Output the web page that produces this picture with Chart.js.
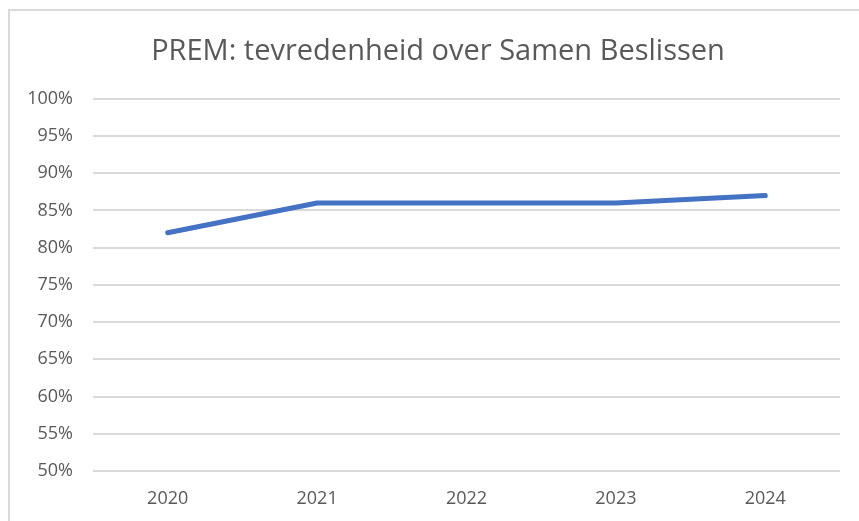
<!DOCTYPE html>
<html>
<head>
<meta charset="utf-8">
<script src="https://cdn.jsdelivr.net/npm/chart.js@4"></script>
<style>
    html, body { margin: 0; padding: 0; background: #fff; overflow: hidden; }
    #frame {
        position: absolute; left: 8px; top: 9px; width: 900px; height: 600px;
        border: 2px solid #d9d9d9; box-sizing: border-box;
    }
    #wrap { position: absolute; left: 0; top: 0; width: 859px; height: 521px; }
</style>
</head>
<body>
<div id="frame"></div>
<div id="wrap"><canvas id="chartPrem"></canvas></div>
<script>
var years = ['2020', '2021', '2022', '2023', '2024'];
var satisfaction = [82, 86, 86, 86, 87];
var yTicks = [50, 55, 60, 65, 70, 75, 80, 85, 90, 95, 100];

var textColor = '#595959';
var gridColor = '#d9d9d9';
var fontFamily = "'Open Sans', sans-serif";

var ctx = document.getElementById('chartPrem').getContext('2d');

var chartData = {
    labels: years,
    datasets: [{
        label: 'Tevredenheid',
        data: satisfaction,
        borderColor: '#4472c4',
        backgroundColor: '#4472c4',
        borderWidth: 5,
        borderCapStyle: 'round',
        borderJoinStyle: 'round',
        pointRadius: 0,
        tension: 0
    }]
};

var options = {
    responsive: true,
    maintainAspectRatio: false,
    animation: false,
    layout: {
        padding: { left: 17, right: 0, top: 20, bottom: 0 }
    },
    plugins: {
        legend: { display: false },
        tooltip: { enabled: false },
        title: {
            display: true,
            text: 'PREM: tevredenheid over Samen Beslissen',
            color: textColor,
            font: { family: fontFamily, size: 29, weight: 'normal' },
            padding: { top: 14, bottom: 30 }
        }
    },
    scales: {
        x: {
            offset: true,
            grid: { display: false, drawTicks: false },
            border: { display: false },
            ticks: {
                color: textColor,
                font: { family: fontFamily, size: 18 },
                padding: 17
            },
            afterFit: function (scale) { scale.height = 50; }
        },
        y: {
            min: 50,
            max: 100,
            grid: { color: gridColor, lineWidth: 2, drawTicks: false },
            border: { display: false },
            afterBuildTicks: function (scale) {
                scale.ticks = yTicks.map(function (v) { return { value: v }; });
            },
            ticks: {
                color: textColor,
                font: { family: fontFamily, size: 18 },
                padding: 20,
                callback: function (value) { return value + '%'; }
            },
            afterFit: function (scale) { scale.width = 76; }
        },
        // empty right-hand axis, only used as a spacer
        y2: {
            position: 'right',
            grid: { display: false, drawTicks: false },
            border: { display: false },
            ticks: { display: false },
            afterFit: function (scale) { scale.width = 19; }
        }
    }
};

var myChart = new Chart(ctx, {
    type: 'line',
    data: chartData,
    options: options
});
</script>
</body>
</html>
